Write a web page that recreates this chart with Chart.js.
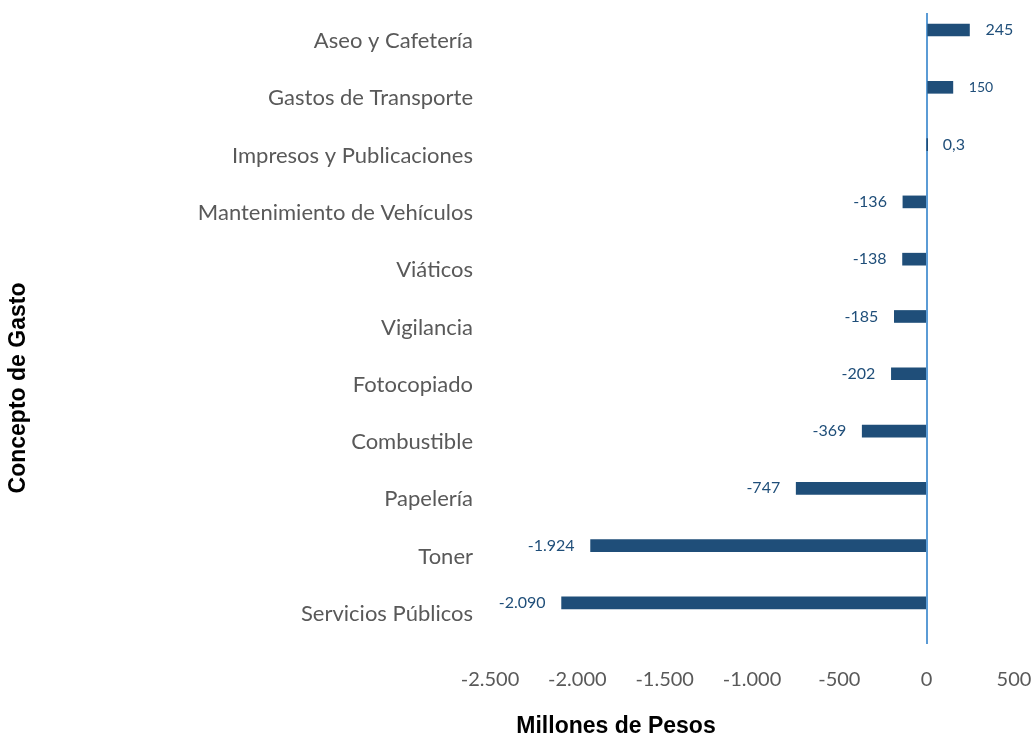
<!DOCTYPE html>
<html>
<head>
<meta charset="utf-8">
<script src="https://cdn.jsdelivr.net/npm/chart.js@4.4.1/dist/chart.umd.min.js"></script>
<style>
  html, body { margin: 0; padding: 0; background: #ffffff; }
  #wrap { width: 1033px; height: 736px; }
</style>
</head>
<body>
<div id="wrap"><canvas id="c" width="1033" height="736"></canvas></div>
<script>
const categories = [
  'Aseo y Cafetería',
  'Gastos de Transporte',
  'Impresos y Publicaciones',
  'Mantenimiento de Vehículos',
  'Viáticos',
  'Vigilancia',
  'Fotocopiado',
  'Combustible',
  'Papelería',
  'Toner',
  'Servicios Públicos'
];
const values = [245, 150, 0.3, -136, -138, -185, -202, -369, -747, -1924, -2090];
const xTickValues = [-2500, -2000, -1500, -1000, -500, 0, 500];
const xAxisTitle = 'Millones de Pesos';
const yAxisTitle = 'Concepto de Gasto';
const labelFontSizes = [16, 14, 16, 16, 16, 16, 16, 16, 16, 16, 16];

function fmtEs(v) {
  const neg = v < 0;
  const a = Math.abs(v);
  let intPart = Math.floor(a);
  let dec = a - intPart;
  let s = String(intPart).replace(/\B(?=(\d{3})+(?!\d))/g, '.');
  if (dec > 1e-9) {
    s += ',' + String(Math.round(dec * 10));
  }
  return (neg ? '-' : '') + s;
}

const barColor = '#1f4e79';
const labelColor = '#1f4e79';
const textGray = '#595959';

const dataLabelsPlugin = {
  id: 'dataLabels',
  afterDatasetsDraw(chart) {
    const ctx = chart.ctx;
    const meta = chart.getDatasetMeta(0);
    ctx.save();
    ctx.fillStyle = labelColor;
    ctx.textBaseline = 'middle';
    meta.data.forEach((bar, i) => {
      const v = values[i];
      ctx.font = labelFontSizes[i] + 'px Lato';
      if (v >= 0) {
        ctx.textAlign = 'left';
        ctx.fillText(fmtEs(v), bar.x + 16, bar.y);
      } else {
        ctx.textAlign = 'right';
        ctx.fillText(fmtEs(v), bar.x - 16, bar.y);
      }
    });
    ctx.restore();
  }
};

const axisTitlesPlugin = {
  id: 'axisTitles',
  afterDraw(chart) {
    const ctx = chart.ctx;
    const ca = chart.chartArea;
    ctx.save();
    ctx.fillStyle = '#000000';
    ctx.font = 'bold 23px "Liberation Sans", Arial, sans-serif';
    ctx.textAlign = 'center';
    ctx.textBaseline = 'middle';
    ctx.fillText(xAxisTitle, ca.left + 126, 727);
    ctx.translate(19, 388);
    ctx.rotate(-Math.PI / 2);
    ctx.fillText(yAxisTitle, 0, 0);
    ctx.restore();
  }
};

new Chart(document.getElementById('c'), {
  type: 'bar',
  data: {
    datasets: [{
      data: values.map((v, i) => ({ x: v, y: i })),
      backgroundColor: barColor,
      borderWidth: 0,
      barThickness: 12
    }]
  },
  options: {
    indexAxis: 'y',
    responsive: false,
    animation: false,
    layout: { padding: { top: 13, bottom: 20, left: 40, right: 19 } },
    plugins: {
      legend: { display: false },
      tooltip: { enabled: false },
      title: { display: false }
    },
    scales: {
      x: {
        type: 'linear',
        min: -2500,
        max: 500,
        afterBuildTicks(scale) {
          scale.ticks = xTickValues.map(v => ({ value: v }));
        },
        afterFit(scale) { scale.paddingLeft = 0; scale.paddingRight = 0; },
        ticks: {
          color: textGray,
          font: { family: 'Lato', size: 20 },
          padding: 24,
          maxRotation: 0,
          callback: (v) => fmtEs(v)
        },
        grid: {
          drawTicks: false,
          lineWidth: 2,
          color: (ctx) => (ctx.tick && ctx.tick.value === 0) ? '#5b9bd5' : 'rgba(0,0,0,0)'
        },
        border: { display: false }
      },
      y: {
        type: 'linear',
        reverse: true,
        offset: false,
        min: -0.297,
        max: 10.717,
        afterBuildTicks(scale) {
          scale.ticks = categories.map((c, i) => ({ value: i }));
        },
        afterFit(scale) { scale.width = 450; scale.paddingTop = 0; scale.paddingBottom = 0; },
        ticks: {
          color: textGray,
          font: { family: 'Lato', size: 22 },
          padding: 17,
          labelOffset: 11,
          autoSkip: false,
          callback: (v) => categories[v]
        },
        grid: { display: false, drawTicks: false, offset: false },
        border: { display: false }
      }
    }
  },
  plugins: [dataLabelsPlugin, axisTitlesPlugin]
});
</script>
</body>
</html>
